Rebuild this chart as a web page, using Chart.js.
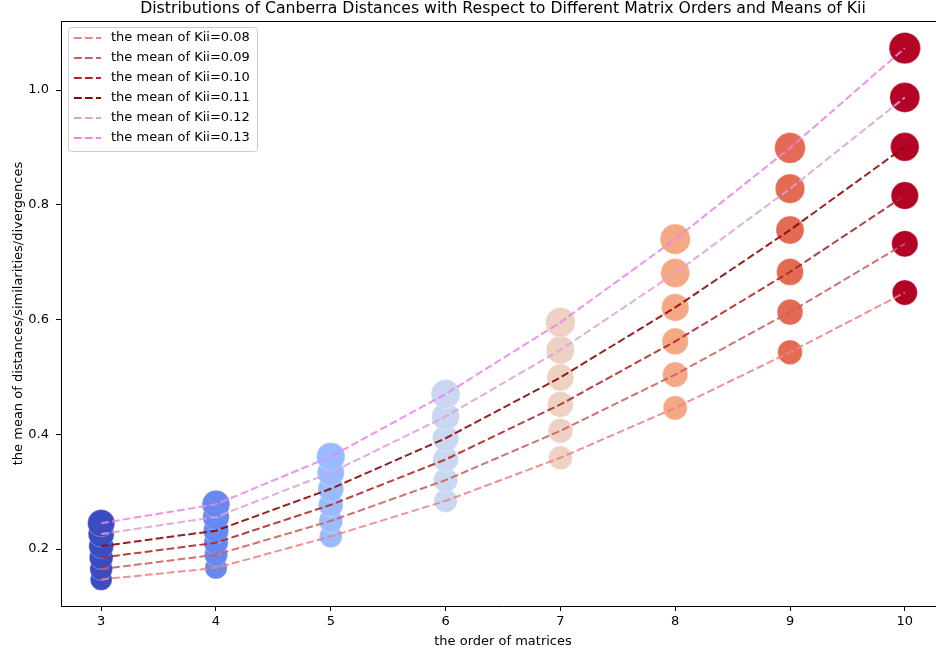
<!DOCTYPE html>
<html>
<head>
<meta charset="utf-8">
<script src="https://cdn.jsdelivr.net/npm/chart.js@4/dist/chart.umd.min.js"></script>
<style>
  html, body { margin: 0; padding: 0; background: #fff; overflow: hidden; }
  #wrap { width: 936px; height: 656px; overflow: hidden; position: relative; }
  #chart { position: absolute; left: 0; top: 0; width: 946px; height: 656px; }
</style>
</head>
<body>
<div id="wrap"><canvas id="chart" width="946" height="656"></canvas></div>
<script>
// matrix orders on the x axis
const orders = [3, 4, 5, 6, 7, 8, 9, 10];
const kiiMeans = ['0.08', '0.09', '0.10', '0.11', '0.12', '0.13'];

// mean Canberra distance per order, one list per Kii mean
const kii008 = [0.147, 0.167, 0.222, 0.284, 0.359, 0.446, 0.543, 0.647];
const kii009 = [0.165, 0.190, 0.249, 0.320, 0.406, 0.504, 0.613, 0.732];
const kii010 = [0.185, 0.211, 0.277, 0.356, 0.452, 0.562, 0.683, 0.816];
const kii011 = [0.205, 0.232, 0.305, 0.393, 0.499, 0.621, 0.756, 0.901];
const kii012 = [0.226, 0.256, 0.333, 0.431, 0.547, 0.681, 0.828, 0.987];
const kii013 = [0.245, 0.278, 0.361, 0.470, 0.595, 0.740, 0.899, 1.073];

const xTicks = [3, 4, 5, 6, 7, 8, 9, 10];
const yTicks = [0.2, 0.4, 0.6, 0.8, 1.0];

const series = [kii008, kii009, kii010, kii011, kii012, kii013];

const TITLE = 'Distributions of Canberra Distances with Respect to Different Matrix Orders and Means of Kii';

// styles
const lineColors = ['#f08080', '#cd5c5c', '#b22222', '#8b0000', '#dda0dd', '#ee82ee'];
const orderColors = ['#3b4cc0', '#6788ee', '#9abbff', '#c9d7f0', '#edd1c2', '#f5a886', '#e36b54', '#b40426'];
const baseRadius = [10.9, 11.4, 11.9, 12.4, 13.0, 13.6];

const FONT = "'DejaVu Sans', sans-serif";

const bubbleSets = orders.map((o, i) => ({
  type: 'scatter',
  order: 2,
  data: series.map(s => ({ x: o, y: s[i] })),
  backgroundColor: orderColors[i],
  borderColor: 'rgba(255,255,255,0.5)',
  borderWidth: 0.6,
  pointRadius: baseRadius.map(r => r * (1 + 0.022 * (o - 3))),
  pointHoverRadius: baseRadius.map(r => r * (1 + 0.022 * (o - 3))),
  showLine: false,
}));

const lineSets = series.map((s, k) => ({
  type: 'line',
  order: 1,
  label: 'the mean of Kii=' + kiiMeans[k],
  data: orders.map((o, i) => ({ x: o, y: s[i] })),
  borderColor: lineColors[k] + 'e0',
  borderWidth: 2,
  borderDash: [7.7, 3.3],
  pointRadius: 0,
  fill: false,
  tension: 0,
}));

// top/right frame, title over the axes and the legend box
const frameAndLegend = {
  id: 'frameAndLegend',
  afterDraw(chart) {
    const { ctx, chartArea: a } = chart;
    ctx.save();
    ctx.strokeStyle = '#000';
    ctx.lineWidth = 1;
    ctx.beginPath();
    ctx.moveTo(a.left, a.top + 0.5);
    ctx.lineTo(a.right, a.top + 0.5);
    ctx.lineTo(a.right - 0.5, a.bottom);
    ctx.stroke();

    ctx.fillStyle = '#000';
    ctx.font = '15.7px ' + FONT;
    ctx.textAlign = 'center';
    ctx.textBaseline = 'middle';
    ctx.fillText(TITLE, (a.left + a.right) / 2, 9);

    const bx = a.left + 7, by = a.top + 6, bw = 189, bh = 124;
    ctx.fillStyle = 'rgba(255,255,255,0.8)';
    ctx.strokeStyle = '#cccccc';
    ctx.beginPath();
    ctx.roundRect(bx + 0.5, by + 0.5, bw, bh, 3);
    ctx.fill();
    ctx.stroke();
    ctx.font = '13px ' + FONT;
    ctx.textAlign = 'left';
    lineSets.forEach((ds, k) => {
      const y = by + 11 + k * 20;
      ctx.strokeStyle = lineColors[k];
      ctx.lineWidth = 2;
      ctx.setLineDash([7.7, 3.3]);
      ctx.beginPath();
      ctx.moveTo(bx + 6, y);
      ctx.lineTo(bx + 33, y);
      ctx.stroke();
      ctx.setLineDash([]);
      ctx.fillStyle = '#000';
      ctx.fillText(ds.label, bx + 43, y);
    });
    ctx.restore();
  }
};

new Chart(document.getElementById('chart'), {
  type: 'scatter',
  data: { datasets: [...lineSets, ...bubbleSets] },
  options: {
    responsive: false,
    animation: false,
    devicePixelRatio: 1,
    layout: { autoPadding: false, padding: { left: 0, right: 1, top: 21, bottom: 0 } },
    plugins: {
      legend: { display: false },
      tooltip: { enabled: false },
      title: { display: false },
    },
    scales: {
      x: {
        type: 'linear',
        min: 2.65,
        max: 10.35,
        afterBuildTicks: s => { s.ticks = xTicks.map(v => ({ value: v })); },
        afterFit: s => { s.height = 50; s.paddingLeft = 0; s.paddingRight = 0; },
        grid: { drawOnChartArea: false, tickLength: 5, color: '#000' },
        border: { color: '#000', width: 1 },
        ticks: { color: '#000', padding: 3, maxRotation: 0, font: { family: FONT, size: 13 } },
        title: {
          display: true,
          text: 'the order of matrices',
          color: '#000',
          font: { family: FONT, size: 13 },
          padding: { top: 4, bottom: 7 },
        },
      },
      y: {
        type: 'linear',
        min: 0.1007,
        max: 1.1203,
        afterBuildTicks: s => { s.ticks = yTicks.map(v => ({ value: v })); },
        afterFit: s => { s.width = 61; s.paddingTop = 0; s.paddingBottom = 0; },
        grid: { drawOnChartArea: false, tickLength: 5, color: '#000' },
        border: { color: '#000', width: 1 },
        ticks: {
          color: '#000',
          padding: 7,
          font: { family: FONT, size: 13 },
          callback: v => v.toFixed(1),
        },
        title: {
          display: true,
          text: 'the mean of distances/similarities/divergences',
          color: '#000',
          font: { family: FONT, size: 13 },
          padding: { top: 11, bottom: 4 },
        },
      },
    },
  },
  plugins: [frameAndLegend],
});
</script>
</body>
</html>
